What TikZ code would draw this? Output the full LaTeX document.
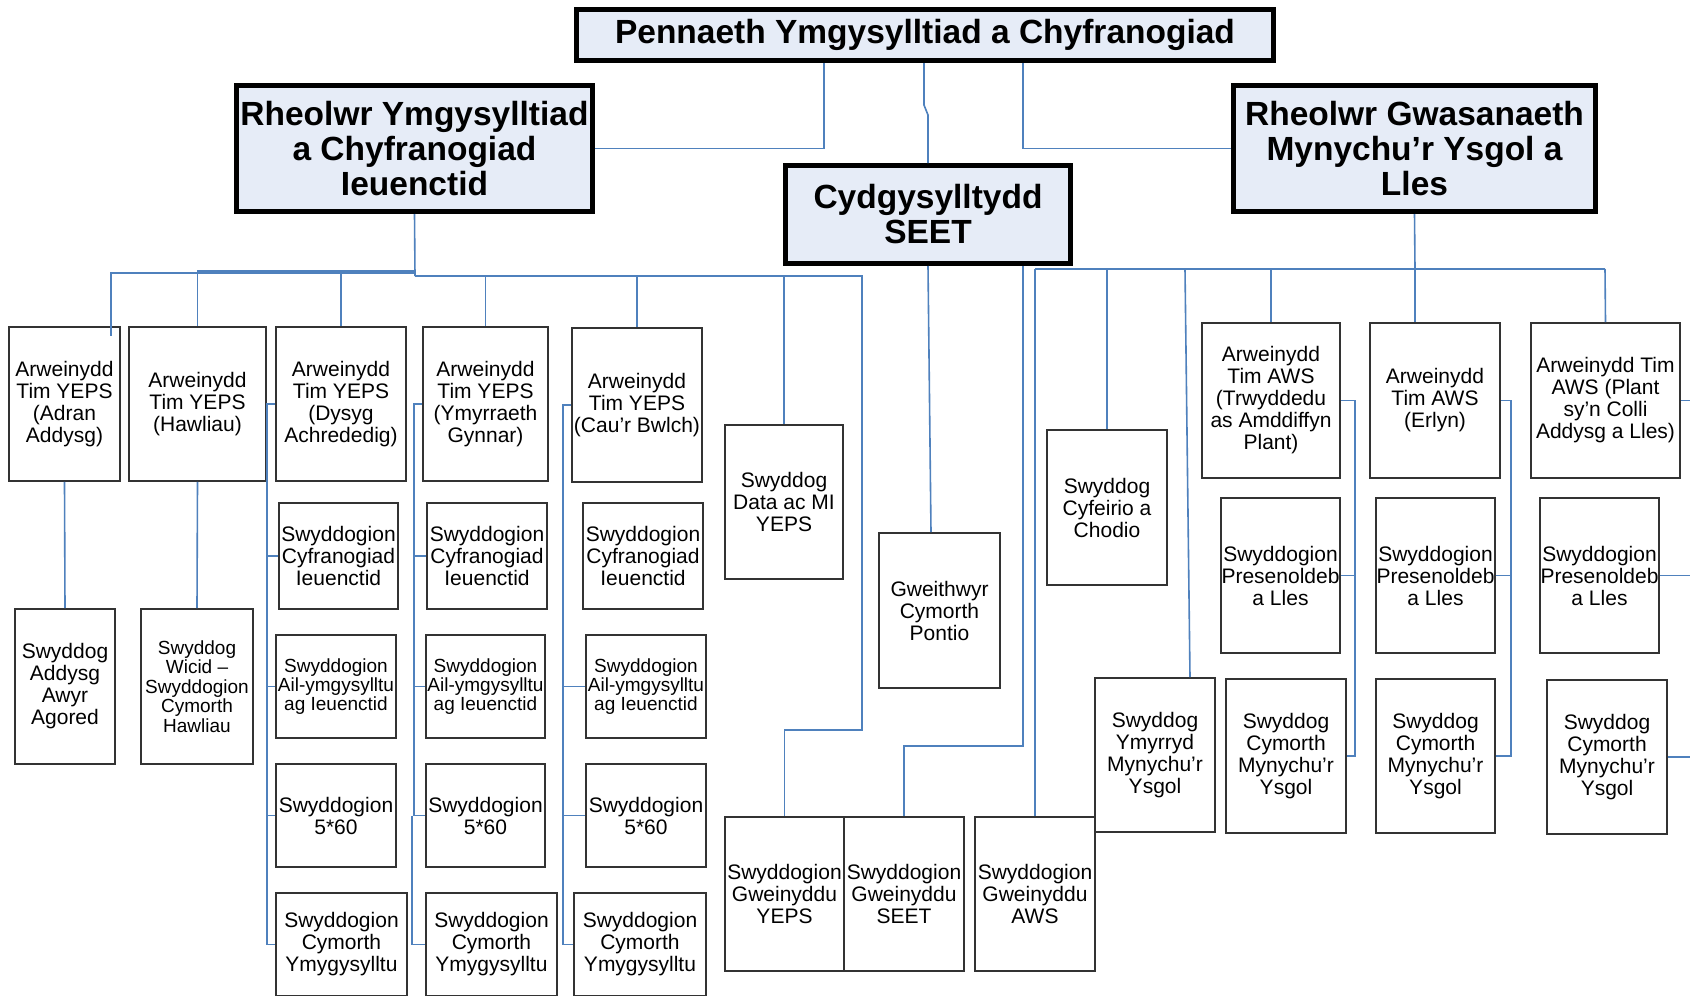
\documentclass[tikz,border=0pt]{standalone}
\usepackage{fontspec}
\setmainfont{Liberation Sans}
\usetikzlibrary{calc}
\definecolor{lineblue}{RGB}{79,129,189}
\definecolor{headfill}{RGB}{230,236,247}
\tikzset{
  pbox/.style={draw=black!80, line width=1.8pt, fill=white, inner sep=0pt, align=center, font=\fontsize{21}{22}\selectfont},
  sbox/.style={pbox, font=\fontsize{19}{19.4}\selectfont},
  hbox/.style={draw=black, line width=5pt, fill=headfill, inner sep=0pt, align=center, font=\fontsize{33.5}{35}\selectfont\bfseries},
  conn/.style={draw=lineblue, line width=1.6pt},
}
\newcommand\mkbox[7]{\node[#1, minimum width={#5pt-#3pt}, minimum height={#6pt-#4pt}] (#2) at ({(#3+#5)/2},{(#4+#6)/2}) {#7};}
\newcommand\mkhead[7]{\node[#1, minimum width={#5pt-#3pt-5pt}, minimum height={#6pt-#4pt-5pt}] (#2) at ({(#3+#5)/2},{(#4+#6)/2}) {#7};}
\begin{document}
\begin{tikzpicture}[x=1pt,y=-1pt]
\useasboundingbox[fill=white] (0,0) rectangle (1690,996);
% heads
\mkhead{hbox}{top}{574}{7}{1276}{63}{Pennaeth Ymgysylltiad a Chyfranogiad}
\mkhead{hbox}{rA}{234}{83}{595}{214}{Rheolwr Ymgysylltiad\\a Chyfranogiad\\Ieuenctid}
\mkhead{hbox}{seet}{783}{163}{1073}{266}{Cydgysylltydd\\SEET}
\mkhead{hbox}{rG}{1231}{83}{1598}{214}{Rheolwr Gwasanaeth\\Mynychu’r Ysgol a\\Lles}
% YEPS leaders
\mkbox{pbox}{b1}{9}{327}{120}{481}{Arweinydd\\Tim YEPS\\(Adran\\Addysg)}
\mkbox{pbox}{b2}{129}{327}{266}{481}{Arweinydd\\Tim YEPS\\(Hawliau)}
\mkbox{pbox}{b3}{276}{327}{406}{481}{Arweinydd\\Tim YEPS\\(Dysyg\\Achrededig)}
\mkbox{pbox}{b4}{423}{327}{548}{481}{Arweinydd\\Tim YEPS\\(Ymyrraeth\\Gynnar)}
\mkbox{pbox}{b5}{572}{328}{702}{482}{Arweinydd\\Tim YEPS\\(Cau’r Bwlch)}
\mkbox{pbox}{dataMI}{725}{425}{843}{579}{Swyddog\\Data ac MI\\YEPS}
\mkbox{pbox}{aa}{15}{609}{115}{764}{Swyddog\\Addysg\\Awyr\\Agored}
\mkbox{sbox}{wic}{141}{609}{253}{764}{Swyddog\\Wicid –\\Swyddogion\\Cymorth\\Hawliau}
% column 3
\mkbox{pbox}{cf3}{279}{503}{398}{609}{Swyddogion\\Cyfranogiad\\Ieuenctid}
\mkbox{sbox}{ai3}{276}{635}{396}{738}{Swyddogion\\Ail-ymgysylltu\\ag Ieuenctid}
\mkbox{pbox}{f3}{276}{764}{396}{867}{Swyddogion\\5*60}
\mkbox{pbox}{cy3}{276}{893}{407}{996}{Swyddogion\\Cymorth\\Ymygysylltu}
% column 4
\mkbox{pbox}{cf4}{427}{503}{547}{609}{Swyddogion\\Cyfranogiad\\Ieuenctid}
\mkbox{sbox}{ai4}{426}{635}{545}{738}{Swyddogion\\Ail-ymgysylltu\\ag Ieuenctid}
\mkbox{pbox}{f4}{426}{764}{545}{867}{Swyddogion\\5*60}
\mkbox{pbox}{cy4}{426}{893}{557}{996}{Swyddogion\\Cymorth\\Ymygysylltu}
% column 5
\mkbox{pbox}{cf5}{583}{503}{703}{609}{Swyddogion\\Cyfranogiad\\Ieuenctid}
\mkbox{sbox}{ai5}{586}{635}{706}{738}{Swyddogion\\Ail-ymgysylltu\\ag Ieuenctid}
\mkbox{pbox}{f5}{586}{764}{706}{867}{Swyddogion\\5*60}
\mkbox{pbox}{cy5}{574}{893}{706}{996}{Swyddogion\\Cymorth\\Ymygysylltu}
% admin
\mkbox{pbox}{gwY}{725}{817}{844}{971}{Swyddogion\\Gweinyddu\\YEPS}
\mkbox{pbox}{gwS}{844}{817}{964}{971}{Swyddogion\\Gweinyddu\\SEET}
\mkbox{pbox}{gwA}{975}{817}{1095}{971}{Swyddogion\\Gweinyddu\\AWS}
\mkbox{pbox}{pontio}{879}{533}{1000}{688}{Gweithwyr\\Cymorth\\Pontio}
\mkbox{pbox}{cyf}{1047}{430}{1167}{585}{Swyddog\\Cyfeirio a\\Chodio}
\mkbox{pbox}{ymy}{1095}{678}{1215}{832}{Swyddog\\Ymyrryd\\Mynychu’r\\Ysgol}
% AWS
\mkbox{pbox}{tA}{1202}{323}{1340}{478}{Arweinydd\\Tim AWS\\(Trwyddedu\\as Amddiffyn\\Plant)}
\mkbox{pbox}{erlyn}{1370}{323}{1500}{478}{Arweinydd\\Tim AWS\\(Erlyn)}
\mkbox{pbox}{plant}{1531}{323}{1680}{478}{Arweinydd Tim\\AWS (Plant\\sy’n Colli\\Addysg a Lles)}
\mkbox{pbox}{p1}{1221}{498}{1340}{653}{Swyddogion\\Presenoldeb\\a Lles}
\mkbox{pbox}{p2}{1376}{498}{1495}{653}{Swyddogion\\Presenoldeb\\a Lles}
\mkbox{pbox}{p3}{1540}{498}{1659}{653}{Swyddogion\\Presenoldeb\\a Lles}
\mkbox{pbox}{c1}{1226}{679}{1346}{833}{Swyddog\\Cymorth\\Mynychu’r\\Ysgol}
\mkbox{pbox}{c2}{1376}{679}{1495}{833}{Swyddog\\Cymorth\\Mynychu’r\\Ysgol}
\mkbox{pbox}{c3}{1547}{680}{1667}{834}{Swyddog\\Cymorth\\Mynychu’r\\Ysgol}
% junctions
\coordinate (jA1) at (415,271);
\coordinate (jA0) at (415,273);
\coordinate (jA2) at (415,276);
\coordinate (b1tick) at (111,336);
\coordinate (jG) at (1415,269);
\coordinate (eR1) at (1690,0);
% top connectors
\draw[conn] (824,0 |- top.south) |- (rA.east);
\draw[conn] (924,0 |- top.south) -- (924,105) -- (928,115) -- (seet.north);
\draw[conn] (1023,0 |- top.south) |- (rG.west);
% rA
\draw[conn] (rA.south) -- (jA2);
\draw[conn] (jA0) -- (111,273) -- (b1tick);
\draw[conn] (jA1) -| (b2.north);
\draw[conn] (jA1) -| (b3.north);
\draw[conn] (jA2) -| (b4.north);
\draw[conn] (jA2) -| (b5.north);
\draw[conn] (jA2) -| (dataMI.north);
\draw[conn] (jA2) -- (862,276) -- (862,730) -| (gwY.north);
\draw[conn] (b1.south) -- (aa.north);
\draw[conn] (b2.south) -- (wic.north);
% column brackets
\draw[conn] (b3.west) -- (267,0 |- b3.west) -- (267,0 |- cy3.west) -- (cy3.west);
\foreach \n in {cf3,ai3,f3} \draw[conn] (267,0 |- \n.west) -- (\n.west);
\draw[conn] (b4.west) -- (414,0 |- b4.west) -- (414,0 |- f4.west) -- (f4.west);
\draw[conn] (412,0 |- f4.west) -- (412,0 |- cy4.west) -- (cy4.west);
\foreach \n in {cf4,ai4} \draw[conn] (414,0 |- \n.west) -- (\n.west);
\draw[conn] (b5.west) -- (563,0 |- b5.west) -- (563,0 |- cy5.west) -- (cy5.west);
\foreach \n in {ai5,f5} \draw[conn] (563,0 |- \n.west) -- (\n.west);
% SEET
\draw[conn] (seet.south) -- (931,0 |- pontio.north);
\draw[conn] (1023,0 |- seet.south) -- (1023,746) -| (gwS.north);
% rG
\draw[conn] (rG.south) -- (jG);
\draw[conn] (1035,269) -- (1605,269);
\draw[conn] (1035,269) -- (gwA.north);
\draw[conn] (1107,269) -- (cyf.north);
\draw[conn] (1185,269) -- (1190,0 |- ymy.north);
\draw[conn] (1271,269) -- (tA.north);
\draw[conn] (jG) -- (1415,0 |- erlyn.north);
\draw[conn] (1605,269) -- (plant.north);
% AWS brackets
\draw[conn] (tA.east) -- (1355,0 |- tA.east) -- (1355,0 |- c1.east) -- (c1.east);
\draw[conn] (1355,0 |- p1.east) -- (p1.east);
\draw[conn] (erlyn.east) -- (1511,0 |- erlyn.east) -- (1511,0 |- c2.east) -- (c2.east);
\draw[conn] (1511,0 |- p2.east) -- (p2.east);
\draw[conn] (plant.east) -- (eR1 |- plant.east);
\draw[conn] (p3.east) -- (eR1 |- p3.east);
\draw[conn] (c3.east) -- (eR1 |- c3.east);
\end{tikzpicture}
\end{document}
